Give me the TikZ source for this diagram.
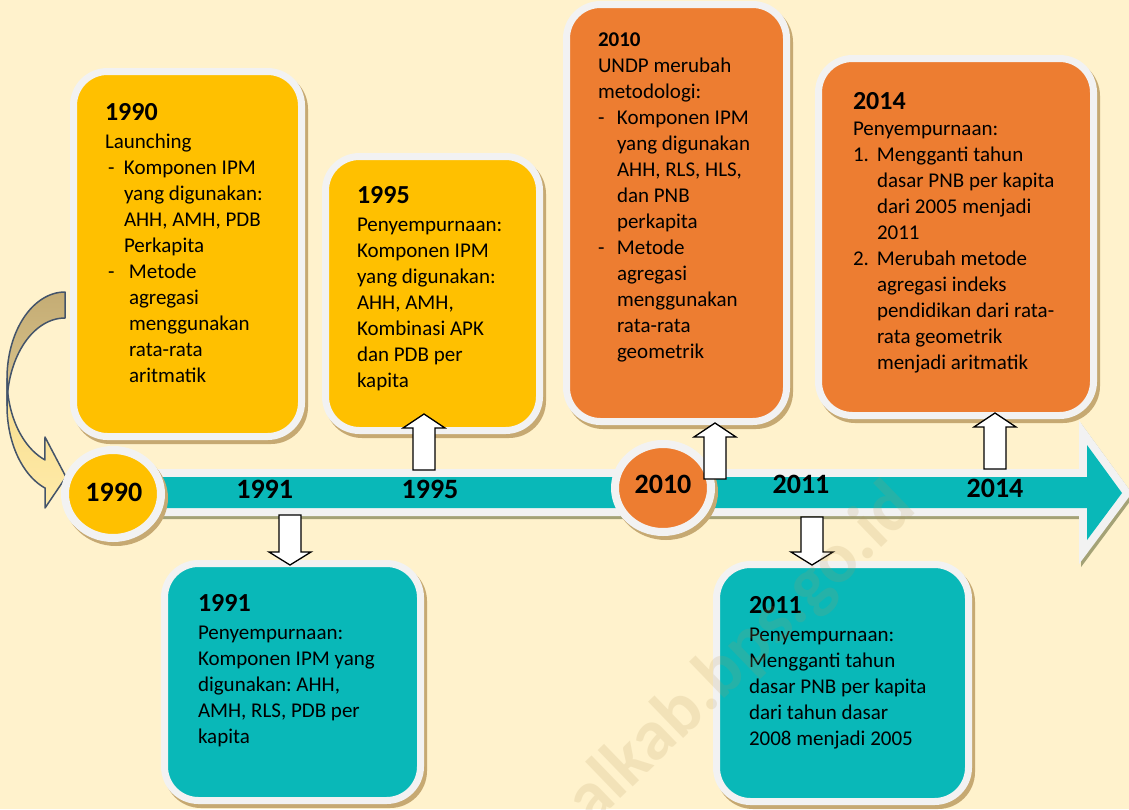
\documentclass[tikz,border=0pt]{standalone}
\usepackage{fontspec}
\setmainfont{Carlito}
\frenchspacing
\usetikzlibrary{shapes.geometric}
\definecolor{bgc}{HTML}{FFF2CC}
\definecolor{yel}{HTML}{FFC000}
\definecolor{ora}{HTML}{ED7D31}
\definecolor{tea}{HTML}{09B8B8}
\definecolor{ring}{HTML}{F2F2F2}
\definecolor{shad}{HTML}{C6A972}
\definecolor{shadt}{HTML}{A4A276}
\definecolor{wm}{HTML}{B4965A}
\definecolor{curvline}{HTML}{44546A}
\definecolor{tanA}{HTML}{C4AC74}
\definecolor{tanB}{HTML}{DCC68E}
\definecolor{ylA}{HTML}{F7DC8C}
\definecolor{ylB}{HTML}{FFEBAA}
\newcommand\tlbox[6]{%
  \fill[shad, rounded corners=37pt] (#2-4,#3-3) rectangle (#4+10,#5+11);
  \node[boxst, fill=#6, minimum width={#4-#2+7}, minimum height={#5-#3+7}] (#1) at ({(#2+#4)/2},{(#3+#5)/2}) {};
}
\newcommand\blkup[4]{%
  \draw[blk] (#1-11,#2) -- (#1-11,#4) -- (#1-21,#4) -- (#1,#3) -- (#1+21,#4) -- (#1+11,#4) -- (#1+11,#2) -- cycle;}
\newcommand\blkdown[4]{%
  \draw[blk] (#1-11,#2) -- (#1-11,#4) -- (#1-21,#4) -- (#1,#3) -- (#1+21,#4) -- (#1+11,#4) -- (#1+11,#2) -- cycle;}
\newcommand\tlpath{(150,477) -- (1087,477) -- (1087,445) -- (1122,493) -- (1087,540) -- (1087,508) -- (150,508) -- cycle}
\begin{document}
\begin{tikzpicture}[x=1pt,y=-1pt,
  every node/.style={inner sep=0pt, outer sep=0pt},
  boxst/.style={draw=ring, line width=7pt, rounded corners=34pt, rectangle},
  body/.style={font=\fontsize{21}{26}\selectfont, align=left, anchor=north west},
  head/.style={font=\fontsize{26}{30}\selectfont\bfseries, anchor=base west},
  year/.style={font=\fontsize{28}{32}\selectfont\bfseries, anchor=base},
  blk/.style={draw=black, fill=white, line width=1.3pt},
  circ/.style={ellipse, draw=ring, line width=8pt, minimum width=96pt, minimum height=88pt},
  curv/.style={draw=curvline, line width=1.5pt, line join=round}]
\useasboundingbox (0,0) rectangle (1129,809);
\fill[bgc] (0,0) rectangle (1129,809);

% curved arrow
\draw[curv, top color=tanA, bottom color=tanB]
  plot[domain=90:180,samples=40] ({65+58*cos(\x)},{378.6-86.6*sin(\x)})
  -- plot[domain=180:90,samples=40] ({65+58*cos(\x)},{405.7-87.7*sin(\x)}) -- cycle;
\draw[curv, top color=ylA, bottom color=ylB]
  plot[domain=180:249.8,samples=40] ({65+58*cos(\x)},{378.6-86.6*sin(\x)})
  -- (45,437) -- (66,477) -- (45,508) -- (45.2,488)
  -- plot[domain=249.8:180,samples=40] ({65+58*cos(\x)},{405.7-87.7*sin(\x)}) -- cycle;

% boxes
\tlbox{b1990}{77}{75}{298}{433}{yel}
\tlbox{b1995}{329}{160}{536}{427}{yel}
\tlbox{b2010}{570}{8}{783}{418}{ora}
\tlbox{b2014}{822}{62}{1090}{412}{ora}
\tlbox{b1991}{168}{567}{417}{797}{tea}
\tlbox{b2011}{720}{568}{965}{798}{tea}

% timeline
\begin{scope}[shift={(2,3)}]
\draw[shadt, fill=shadt, line width=16pt] \tlpath;
\end{scope}
\draw[ring, fill=ring, line width=16pt] \tlpath;
\fill[tea] \tlpath;

% circles
\fill[shad] (116,498) ellipse [x radius=52, y radius=48];
\node[circ, fill=yel] (c1990) at (113,494) {};
\fill[shad] (666,492) ellipse [x radius=52, y radius=48];
\node[circ, fill=ora] (c2010) at (663,488) {};

% block arrows
\blkup{424}{470}{414}{428}
\blkup{715}{479}{423}{437}
\blkup{995}{469}{413}{427}
\blkdown{290}{515}{565}{552}
\blkdown{812}{517}{565}{552}

% timeline years
\node[year] (y1990) at (113.8,501.7) {1990};
\node[year] (y1991) at (264.7,498) {1991};
\node[year] (y1995) at (430,498) {1995};
\node[year] (y2010) at (663,493) {2010};
\node[year] (y2011) at (801,493) {2011};
\node[year] (y2014) at (995,497) {2014};

% 1990 box text
\node[head] (h1990) at (105,120) {1990};
\node[body] (t1990) at (105,148-18.2) {\strut Launching\\
\makebox[19pt][l]{\hspace{3pt}-}Komponen IPM\\
\hspace*{19pt}yang digunakan:\\
\hspace*{19pt}AHH, AMH, PDB\\
\hspace*{19pt}Perkapita\\
\makebox[24pt][l]{\hspace{3pt}-}Metode\\
\hspace*{24pt}agregasi\\
\hspace*{24pt}menggunakan\\
\hspace*{24pt}rata-rata\\
\hspace*{24pt}aritmatik};

% 1995 box text
\node[head] (h1995) at (357,203) {1995};
\node[body] (t1995) at (357,231-18.2) {\strut Penyempurnaan:\\
Komponen IPM\\
yang digunakan:\\
AHH, AMH,\\
Kombinasi APK\\
dan PDB per\\
kapita};

% 2010 box text
\node[head, font=\fontsize{21}{26}\selectfont\bfseries] (h2010) at (598,46) {2010};
\node[body] (t2010) at (598,72.7-18.2) {\strut UNDP merubah\\
metodologi:\\
\makebox[19pt][l]{-}Komponen IPM\\
\hspace*{19pt}yang digunakan\\
\hspace*{19pt}AHH, RLS, HLS,\\
\hspace*{19pt}dan PNB\\
\hspace*{19pt}perkapita\\
\makebox[19pt][l]{-}Metode\\
\hspace*{19pt}agregasi\\
\hspace*{19pt}menggunakan\\
\hspace*{19pt}rata-rata\\
\hspace*{19pt}geometrik};

% 2014 box text
\node[head] (h2014) at (853,109) {2014};
\node[body] (t2014) at (853,135.7-18.2) {\strut Penyempurnaan:\\
\makebox[24pt][l]{1.}Mengganti tahun\\
\hspace*{24pt}dasar PNB per kapita\\
\hspace*{24pt}dari 2005 menjadi\\
\hspace*{24pt}2011\\
\makebox[24pt][l]{2.}Merubah metode\\
\hspace*{24pt}agregasi indeks\\
\hspace*{24pt}pendidikan dari rata-\\
\hspace*{24pt}rata geometrik\\
\hspace*{24pt}menjadi aritmatik};

% 1991 box text
\node[head] (h1991) at (198,611.7) {1991};
\node[body] (t1991) at (198,639.3-18.2) {\strut Penyempurnaan:\\
Komponen IPM yang\\
digunakan: AHH,\\
AMH, RLS, PDB per\\
kapita};

% 2011 box text
\node[head] (h2011) at (749,613.3) {2011};
\node[body] (t2011) at (749,641-18.2) {\strut Penyempurnaan:\\
Mengganti tahun\\
dasar PNB per kapita\\
dari tahun dasar\\
2008 menjadi 2005};

% watermark
\begin{scope}
\clip (0,0) rectangle (1129,809);
\node[rotate=44, font=\fontsize{72}{72}\selectfont\bfseries, text=wm, text opacity=0.17] (wmark) at (742,655) {alkab.bps.go.id};
\end{scope}
\end{tikzpicture}
\end{document}
